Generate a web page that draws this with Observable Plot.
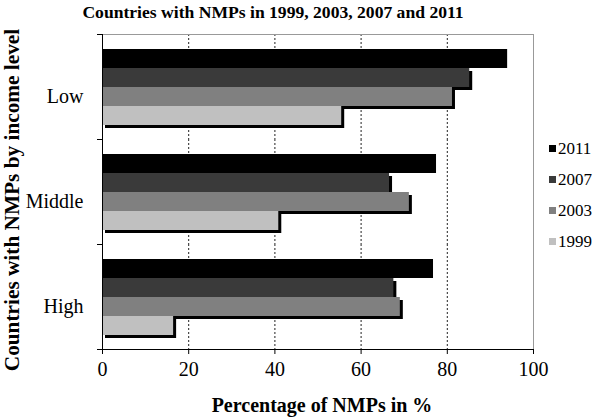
<!DOCTYPE html>
<html>
<head>
<meta charset="utf-8">
<script src="https://cdn.jsdelivr.net/npm/d3@7"></script>
<script src="https://cdn.jsdelivr.net/npm/@observablehq/plot@0.6"></script>
<style>
  html, body { margin: 0; padding: 0; background: #fff; }
  #wrap { position: relative; width: 600px; height: 417px; font-family: "Liberation Serif", "Times New Roman", serif; color: #000; }
  #wrap svg { position: absolute; left: 0; top: 0; }
  .title { position: absolute; left: 0; width: 546px; top: 1px; text-align: center; font-weight: bold; font-size: 17.6px; line-height: 22px; white-space: nowrap; }
  .xlabel { position: absolute; left: 0; width: 644px; top: 394px; text-align: center; font-weight: bold; font-size: 20px; line-height: 22px; white-space: nowrap; }
  .ylabel { position: absolute; left: 12px; top: 200px; transform: translate(-50%, -50%) rotate(-90deg); font-weight: bold; font-size: 21.3px; line-height: 22px; white-space: nowrap; }
  .legend { position: absolute; left: 549px; top: 133px; }
  .legend .item { display: flex; align-items: center; height: 31px; font-size: 17px; }
  .legend .sw { width: 7px; height: 7px; margin-right: 2px; }
</style>
</head>
<body>
<div id="wrap"></div>
<script>
const categories = ["Low", "Middle", "High"];
const years = ["2011", "2007", "2003", "1999"];
const values2011 = [94.0, 77.5, 76.8];
const values2007 = [85.2, 66.6, 67.6];
const values2003 = [81.2, 71.2, 69.1];
const values1999 = [55.5, 40.9, 16.5];
const xTicks = [0, 20, 40, 60, 80, 100];
const gridTicks = [20, 40, 60, 80];
const colors = ["#000000", "#3a3a3a", "#808080", "#c0c0c0"];

const series = [values2011, values2007, values2003, values1999];
const data = categories.flatMap((c, i) => years.map((y, j) => ({income: c, year: y, value: series[j][i]})));
const serif = "'Liberation Serif', 'Times New Roman', serif";

const chart = Plot.plot({
  width: 600,
  height: 417,
  marginLeft: 102,
  marginRight: 67,
  marginTop: 34,
  marginBottom: 68,
  style: {fontFamily: serif, fontSize: "18px", color: "#000", background: "transparent"},
  x: {domain: [0, 100], axis: null},
  y: {domain: years, paddingInner: 0, paddingOuter: 0.76, axis: null},
  fy: {domain: categories, padding: 0, axis: null},
  color: {domain: years, range: colors},
  marks: [
    Plot.gridX(gridTicks, {stroke: "#222", strokeOpacity: 1, strokeDasharray: "2,2"}),
    Plot.ruleX([100], {stroke: "#999"}),
    Plot.frame({anchor: "top", stroke: "#999", facetAnchor: "top"}),
    Plot.barX(data, {filter: (d) => d.year !== "2011", x: "value", y: "year", fy: "income", fill: "black", dx: 3, dy: 3}),
    Plot.barX(data, {x: "value", y: "year", fy: "income", fill: "year"}),
    Plot.ruleX([0], {stroke: "black"}),
    Plot.frame({anchor: "top", stroke: "black", insetLeft: -5, insetRight: 431}),
    Plot.frame({anchor: "bottom", stroke: "black", insetLeft: -5, insetRight: 431}),
    Plot.frame({anchor: "bottom", stroke: "black", facetAnchor: "bottom"}),
    Plot.axisX(xTicks, {anchor: "bottom", tickSize: 5, tickPadding: 7, fontSize: 20, fontFamily: serif, label: null, stroke: "black"}),
    Plot.axisFy({anchor: "left", tickSize: 0, tickPadding: 19, dy: 10, fontSize: 20, fontFamily: serif, label: null})
  ]
});

const wrap = document.getElementById("wrap");
wrap.appendChild(chart);

const title = document.createElement("div");
title.className = "title";
title.textContent = "Countries with NMPs in 1999, 2003, 2007 and 2011";
wrap.appendChild(title);

const xl = document.createElement("div");
xl.className = "xlabel";
xl.textContent = "Percentage of NMPs in %";
wrap.appendChild(xl);

const yl = document.createElement("div");
yl.className = "ylabel";
yl.textContent = "Countries with NMPs by income level";
wrap.appendChild(yl);

const legend = document.createElement("div");
legend.className = "legend";
years.forEach((y, i) => {
  const item = document.createElement("div");
  item.className = "item";
  const sw = document.createElement("span");
  sw.className = "sw";
  sw.style.background = colors[i];
  const t = document.createElement("span");
  t.textContent = y;
  item.appendChild(sw);
  item.appendChild(t);
  legend.appendChild(item);
});
wrap.appendChild(legend);
</script>
</body>
</html>
